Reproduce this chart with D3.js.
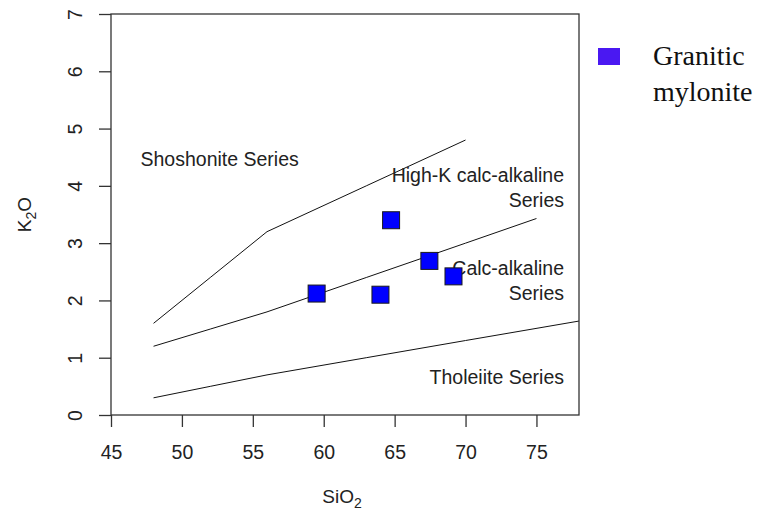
<!DOCTYPE html>
<html>
<head>
<meta charset="utf-8">
<script src="https://cdn.jsdelivr.net/npm/d3@7"></script>
<style>
  html, body { margin: 0; padding: 0; background: #fff; }
  svg { display: block; }
  .sans { font-family: "Liberation Sans", Arial, sans-serif; fill: #222; }
  .serif { font-family: "Liberation Serif", "Times New Roman", serif; fill: #111; }
</style>
</head>
<body>
<svg id="chart" width="769" height="510"></svg>
<script>
// Sample compositions (wt%)
const sio2 = [59.5, 64.0, 64.75, 67.45, 69.15];
const k2o  = [2.12, 2.10, 3.40, 2.69, 2.42];
const seriesName = "Granitic mylonite";

// Series boundaries in the SiO2 vs K2O diagram
const shoshoniteBoundary = [[48, 1.6], [52, 2.4], [56, 3.2], [63, 4.0], [70, 4.8]];
const highKBoundary      = [[48, 1.2], [52, 1.5], [56, 1.8], [63, 2.4], [70, 3.0], [75, 3.43]];
const tholeiiteBoundary  = [[48, 0.3], [52, 0.5], [56, 0.7], [63, 1.0], [70, 1.3], [78, 1.64]];

const xTicks = [45, 50, 55, 60, 65, 70, 75];
const yTicks = [0, 1, 2, 3, 4, 5, 6, 7];

const svg = d3.select("#chart");
const plotLeft = 111, plotRight = 579, plotTop = 14, plotBottom = 415;

const x = d3.scaleLinear().domain([45, 78]).range([plotLeft, plotRight]);
const y = d3.scaleLinear().domain([0, 7]).range([plotBottom, plotTop]);

// Boundary lines
const line = d3.line().x(d => x(d[0])).y(d => y(d[1]));
svg.append("g")
  .selectAll("path")
  .data([shoshoniteBoundary, highKBoundary, tholeiiteBoundary])
  .join("path")
  .attr("d", line)
  .attr("fill", "none")
  .attr("stroke", "#111")
  .attr("stroke-width", 1);

// Field labels
const labels = [
  { lines: ["Shoshonite Series"], x: 140.5, y: 166, anchor: "start" },
  { lines: ["High-K calc-alkaline", "Series"], x: 564, y: 182, anchor: "end" },
  { lines: ["Calc-alkaline", "Series"], x: 564, y: 275, anchor: "end" },
  { lines: ["Tholeiite Series"], x: 564, y: 383.5, anchor: "end" }
];
labels.forEach(l => {
  const t = svg.append("text")
    .attr("class", "sans")
    .attr("font-size", 19.5)
    .attr("text-anchor", l.anchor);
  l.lines.forEach((s, i) => {
    t.append("tspan").attr("x", l.x).attr("y", l.y + i * 24.5).text(s);
  });
});

// Sample points
svg.append("g")
  .selectAll("rect")
  .data(sio2.map((v, i) => [v, k2o[i]]))
  .join("rect")
  .attr("x", d => x(d[0]) - 8.5)
  .attr("y", d => y(d[1]) - 8.5)
  .attr("width", 17)
  .attr("height", 17)
  .attr("fill", "#0000ff")
  .attr("stroke", "#1a1a1a")
  .attr("stroke-width", 1);

// Frame
svg.append("rect")
  .attr("x", plotLeft).attr("y", plotTop)
  .attr("width", plotRight - plotLeft).attr("height", plotBottom - plotTop)
  .attr("fill", "none").attr("stroke", "#333").attr("stroke-width", 1.3);

// X axis
const gx = svg.append("g")
  .attr("transform", `translate(0,${plotBottom})`)
  .call(d3.axisBottom(x).tickValues(xTicks).tickSize(12).tickPadding(18).tickFormat(d3.format("d")));
gx.select(".domain").remove();
gx.selectAll(".tick line").attr("stroke", "#333").attr("stroke-width", 1.3);
gx.selectAll("text")
  .attr("font-family", "Liberation Sans, Arial, sans-serif")
  .attr("font-size", 19.5).attr("fill", "#222");

// Y axis with rotated labels
const gy = svg.append("g")
  .attr("transform", `translate(${plotLeft},0)`)
  .call(d3.axisLeft(y).tickValues(yTicks).tickSize(12).tickFormat(d3.format("d")));
gy.select(".domain").remove();
gy.selectAll(".tick line").attr("stroke", "#333").attr("stroke-width", 1.3);
gy.selectAll("text")
  .attr("font-family", "Liberation Sans, Arial, sans-serif")
  .attr("font-size", 19.5).attr("fill", "#222")
  .attr("x", 0).attr("y", -29).attr("dy", 0)
  .attr("text-anchor", "middle")
  .attr("transform", "rotate(-90)");

// Axis titles
const xt = svg.append("text").attr("class", "sans").attr("font-size", 19)
  .attr("text-anchor", "middle").attr("x", (plotLeft + plotRight) / 2 - 3).attr("y", 503);
xt.append("tspan").text("SiO");
xt.append("tspan").attr("font-size", 14).attr("dy", 5).text("2");

const yt = svg.append("text").attr("class", "sans").attr("font-size", 19)
  .attr("text-anchor", "middle")
  .attr("transform", `translate(31,${(plotTop + plotBottom) / 2}) rotate(-90)`);
yt.append("tspan").text("K");
yt.append("tspan").attr("font-size", 14).attr("dy", 5).text("2");
yt.append("tspan").attr("dy", -5).text("O");

// Legend
const lg = svg.append("g").attr("transform", "translate(598,48)");
lg.append("rect").attr("width", 22).attr("height", 17).attr("fill", "#4a18f2");
const lt = lg.append("text").attr("class", "serif").attr("font-size", 28);
const parts = seriesName.split(" ");
lt.append("tspan").attr("x", 55).attr("y", 17).text(parts[0]);
lt.append("tspan").attr("x", 55).attr("y", 53).text(parts[1]);
</script>
</body>
</html>
